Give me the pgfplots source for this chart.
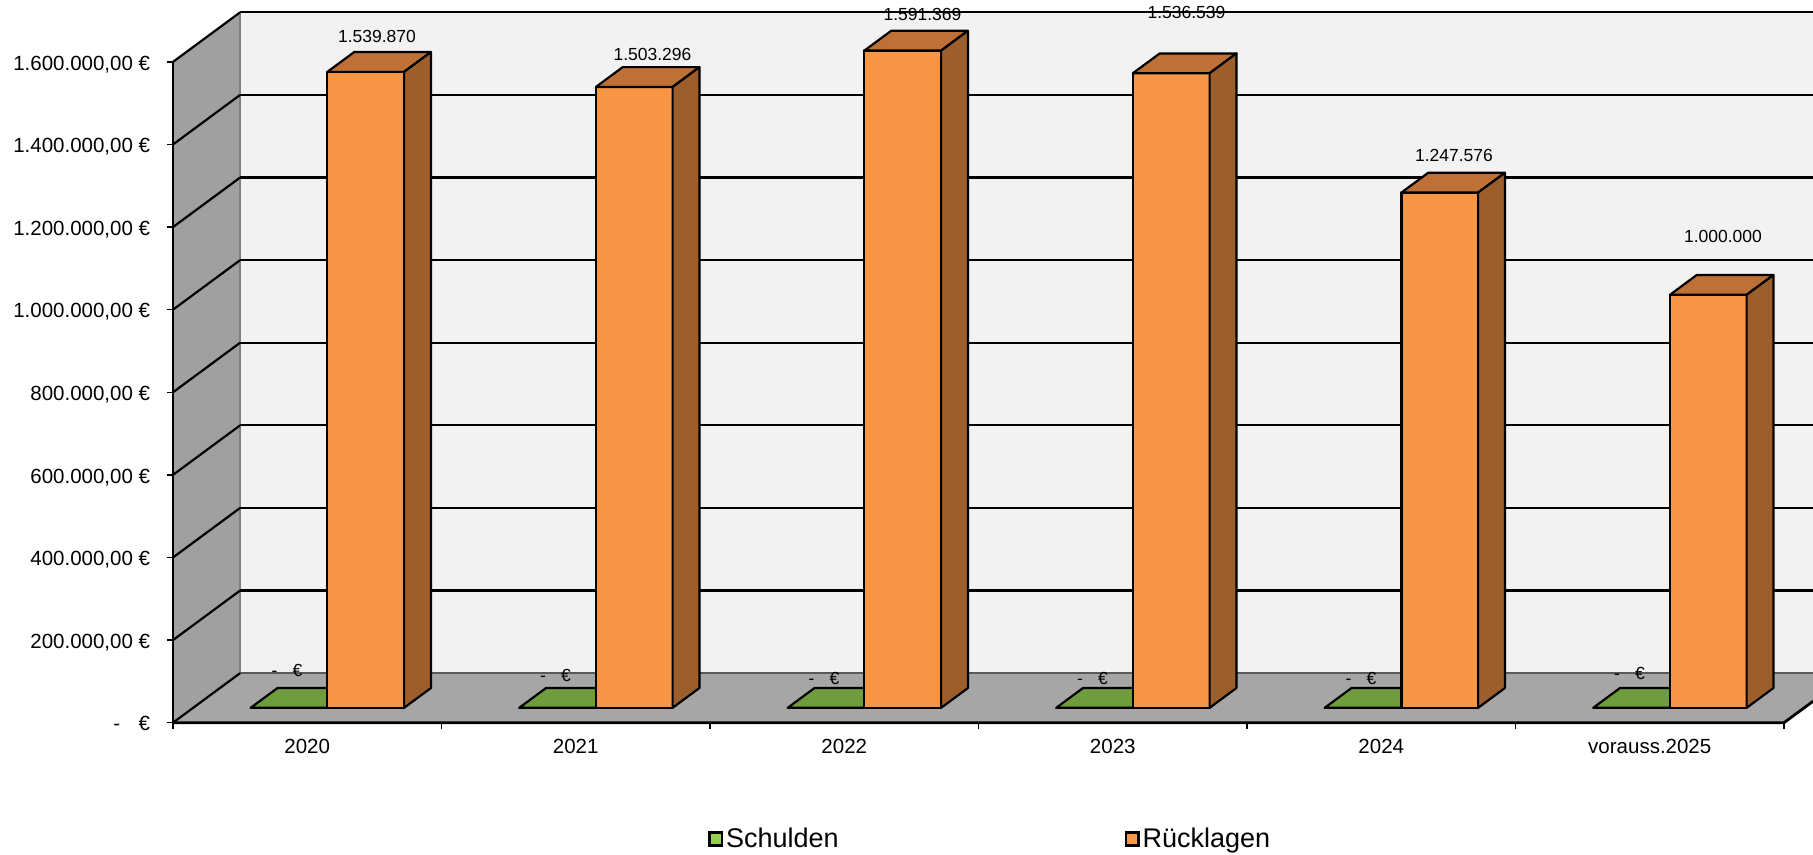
\documentclass[border=0pt]{standalone}
\usepackage{fontspec}
\setmainfont{Liberation Sans}
\usepackage{pgfplots}
\usepackage{pgfplotstable}
\pgfplotsset{compat=1.18}
\definecolor{wallL}{HTML}{A0A0A0}
\definecolor{wallB}{HTML}{F2F2F2}
\definecolor{floorC}{HTML}{A6A6A6}
\definecolor{edgeG}{HTML}{7F7F7F}
\definecolor{orFront}{HTML}{F79646}
\definecolor{orTop}{HTML}{BF7036}
\definecolor{orSide}{HTML}{9C5F2C}
\definecolor{grTop}{HTML}{6F9C3C}
\definecolor{legGreen}{HTML}{92D050}
\pgfplotstableread{
idx S R
0 0 1539870
1 0 1503296
2 0 1591369
3 0 1536539
4 0 1247576
5 0 1000000
}\datatable
\begin{document}
\begin{tikzpicture}
\begin{axis}[
  at={(0,0)}, anchor=south west,
  scale only axis, width=820pt, height=355.18pt,
  xmin=0, xmax=6.108, ymin=0, ymax=1720000,
  clip=false,
  axis x line*=bottom, axis y line*=left,
  axis line style={draw=none},
  tick align=outside,
  major tick length=0pt,
  tick style={black, line width=0.7pt},
  scaled y ticks=false,
  xtick={0.5,1.5,2.5,3.5,4.5,5.5},
  xticklabels={2020,2021,2022,2023,2024,vorauss.2025},
  ytick={0,200000,400000,600000,800000,1000000,1200000,1400000,1600000},
  yticklabels={{-\hspace{9.3pt}€},{200.000,00 €},{400.000,00 €},{600.000,00 €},{800.000,00 €},{1.000.000,00 €},{1.200.000,00 €},{1.400.000,00 €},{1.600.000,00 €}},
  extra x ticks={0,1,2,3,4,5,6},
  extra x tick labels={},
  extra x tick style={major tick length=3pt, xticklabel=\empty},
  extra y ticks={0,200000,400000,600000,800000,1000000,1200000,1400000,1600000},
  extra y tick labels={},
  extra y tick style={major tick length=3pt, yticklabel=\empty},
  xticklabel style={font=\fontsize{10.25}{12}\selectfont, anchor=base, inner sep=0pt, yshift=-15.65pt},
  yticklabel style={font=\fontsize{10.25}{12}\selectfont, anchor=base east, inner sep=0pt, xshift=-11.25pt, yshift=-4.15pt},
  legend columns=2,
  legend style={at={(axis description cs:0.3262,-0.1637)}, anchor=west, draw=none, fill=none,
    inner sep=0pt, column sep=0pt, font=\fontsize{13.5}{16}\selectfont, nodes={inner sep=1.5pt},
    /tikz/every even column/.append style={column sep=141.5pt}},
]
\addlegendimage{legend image code/.code={\draw[fill=legGreen,draw=black,line width=1.2pt] (0pt,-3.2pt) rectangle (6.2pt,3.2pt);}}
\addlegendentry{Schulden}
\addlegendimage{legend image code/.code={\draw[fill=orFront,draw=black,line width=1.2pt] (0pt,-3.2pt) rectangle (6.2pt,3.2pt);}}
\addlegendentry{Rücklagen}

% walls and floor
\fill[wallB] (axis cs:0.25,120000) rectangle (axis cs:6.108,1720000);
\fill[wallL] (axis cs:0,0) -- (axis cs:0.25,120000) -- (axis cs:0.25,1720000) -- (axis cs:0,1600000) -- cycle;
\fill[floorC] (axis cs:0,0) -- (axis cs:6,0) -- (axis cs:6.108,51840) -- (axis cs:6.108,120000) -- (axis cs:0.25,120000) -- cycle;
\draw[edgeG, line width=0.8pt] (axis cs:0.25,120000) -- (axis cs:0.25,1720000);
\draw[edgeG!70!black, line width=0.8pt] (axis cs:0.25,120000) -- (axis cs:6.108,120000);
% gridlines
\pgfplotsinvokeforeach{0,1,2,3,4,5,6,7,8}{%
  \draw[black, line width=1.1pt] (axis cs:0,{#1*200000}) -- (axis cs:0.25,{#1*200000+120000});
}
\pgfplotsinvokeforeach{1,2,3,4,5,6,7,8}{%
  \draw[black, line width=1.1pt] (axis cs:0.25,{#1*200000+120000}) -- (axis cs:6.108,{#1*200000+120000});
}
\draw[black, line width=1.4pt] (axis cs:0,0) -- (axis cs:6,0) -- (axis cs:6.108,51840);
\draw[black, line width=0.8pt] (axis cs:0,0) -- (axis cs:0,1600000);

% bars
\pgfplotsinvokeforeach{0,1,2,3,4,5}{%
  \pgfplotstablegetelem{#1}{S}\of\datatable
  \let\sval\pgfplotsretval
  \pgfplotstablegetelem{#1}{R}\of\datatable
  \let\rval\pgfplotsretval
  \edef\temp{%
    \noexpand\filldraw[fill=grTop, draw=black, line width=1.1pt, line join=round]
      (axis cs:{#1+0.2893},{\sval+36000}) -- (axis cs:{#1+0.575},{\sval+36000}) -- (axis cs:{#1+0.675},{\sval+84000}) -- (axis cs:{#1+0.3893},{\sval+84000}) -- cycle;
    \noexpand\filldraw[fill=orFront, draw=black, line width=1.1pt, line join=round]
      (axis cs:{#1+0.575},36000) rectangle (axis cs:{#1+0.8607},{\rval+36000});
    \noexpand\filldraw[fill=orTop, draw=black, line width=1.1pt, line join=round]
      (axis cs:{#1+0.575},{\rval+36000}) -- (axis cs:{#1+0.8607},{\rval+36000}) -- (axis cs:{#1+0.9607},{\rval+84000}) -- (axis cs:{#1+0.675},{\rval+84000}) -- cycle;
    \noexpand\filldraw[fill=orSide, draw=black, line width=1.1pt, line join=round]
      (axis cs:{#1+0.8607},36000) -- (axis cs:{#1+0.9607},84000) -- (axis cs:{#1+0.9607},{\rval+84000}) -- (axis cs:{#1+0.8607},{\rval+36000}) -- cycle;
  }\temp
}

% data labels
\addplot[forget plot, draw=none, mark=none, nodes near coords, point meta=explicit symbolic,
  every node near coord/.append style={inner sep=0pt, text=black, font=\fontsize{8.75}{10}\selectfont}]
  coordinates {
  (0.7598,1646000) [1.539.870]
  (1.7858,1601700) [1.503.296]
  (2.7914,1699300) [1.591.369]
  (3.7747,1702700) [1.536.539]
  (4.7709,1358000) [1.247.576]
  (5.7728,1160400) [1.000.000]
  (0.4246,110600) [{-\hspace{7.5pt}€}]
  (1.4246,98500) [{-\hspace{7.5pt}€}]
  (2.4246,91300) [{-\hspace{7.5pt}€}]
  (3.4246,91300) [{-\hspace{7.5pt}€}]
  (4.4246,91300) [{-\hspace{7.5pt}€}]
  (5.4246,103400) [{-\hspace{7.5pt}€}]
  };
\end{axis}
\pgfresetboundingbox
\path[use as bounding box] (-86.5pt,-66.15pt) rectangle (820pt,361.35pt);
\end{tikzpicture}
\end{document}
